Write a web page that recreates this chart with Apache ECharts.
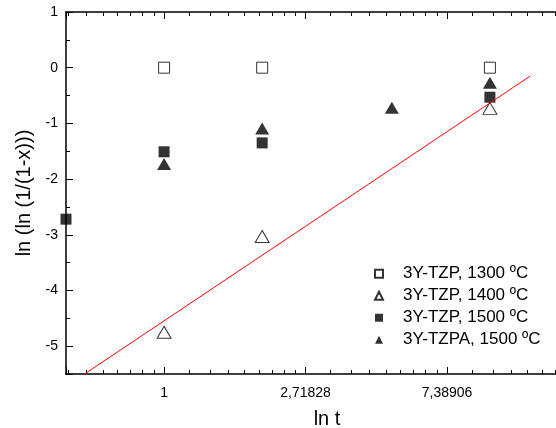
<!DOCTYPE html>
<html>
<head>
<meta charset="utf-8">
<script src="https://cdn.jsdelivr.net/npm/echarts@6/dist/echarts.min.js"></script>
<style>
html,body{margin:0;padding:0;background:#fff;}
#chart{width:556px;height:428px;}
</style>
</head>
<body>
<div id="chart"></div>
<script>
// ---- data ----
const seriesNames = ['3Y-TZP, 1300 ºC', '3Y-TZP, 1400 ºC', '3Y-TZP, 1500 ºC', '3Y-TZPA, 1500 ºC'];
const tzp1300_t = [1, 2, 10];
const tzp1300_y = [0, 0, 0];
const tzp1400_t = [1, 2, 10];
const tzp1400_y = [-4.75, -3.03, -0.73];
const tzp1500_t = [0.5, 1, 2, 10];
const tzp1500_y = [-2.72, -1.51, -1.35, -0.53];
const tzpa1500_t = [1, 2, 5, 10];
const tzpa1500_y = [-1.73, -1.09, -0.72, -0.27];
const fitT = [0.57, 13.3];
const fitY = [-5.5, -0.15];
const xTickValues = [1, Math.E, Math.E * Math.E];
const xTickLabels = ['1', '2,71828', '7,38906'];
const xMin = 0.5, xMax = 20;
const yMin = -5.5, yMax = 1;

function pairs(t, y) { return t.map((v, i) => [v, y[i]]); }

const FONT = 'Liberation Sans, Arial, sans-serif';
const black = '#000';

function xAxisDef(pos, showLabels) {
  return {
    type: 'log', logBase: Math.E, min: xMin, max: xMax, position: pos,
    axisLine: { show: true, onZero: false, lineStyle: { color: black, width: 1.5 } },
    axisTick: { show: true, inside: true, length: 7, lineStyle: { color: black, width: 1 } },
    minorTick: { show: true, splitNumber: 9, length: 4, lineStyle: { color: black, width: 1 } },
    splitLine: { show: false },
    minorSplitLine: { show: false },
    axisLabel: showLabels ? {
      show: true, margin: 12, color: black, fontFamily: FONT, fontSize: 14,
      showMinLabel: false, showMaxLabel: false,
      formatter: function (v) {
        for (let i = 0; i < xTickValues.length; i++) {
          if (Math.abs(v - xTickValues[i]) < 1e-6 * xTickValues[i]) return xTickLabels[i];
        }
        return '';
      }
    } : { show: false },
    name: showLabels ? 'ln t' : '',
    nameLocation: 'middle', nameGap: 35,
    nameTextStyle: { color: black, fontFamily: FONT, fontSize: 20 }
  };
}

const chart = echarts.init(document.getElementById('chart'), null, { renderer: 'canvas' });
const option = {
  backgroundColor: '#fff',
  animation: false,
  grid: { left: 66, top: 12, width: 522, height: 362, outerBoundsMode: 'none', containLabel: false },
  xAxis: [xAxisDef('bottom', true), xAxisDef('top', false)],
  yAxis: {
    type: 'value', min: yMin, max: yMax,
    axisLine: { show: true, onZero: false, lineStyle: { color: black, width: 1.5 } },
    axisTick: { show: true, inside: true, length: 7, lineStyle: { color: black, width: 1 } },
    minorTick: { show: true, splitNumber: 2, length: 4, lineStyle: { color: black, width: 1 } },
    splitLine: { show: false },
    axisLabel: { color: black, fontFamily: FONT, fontSize: 14, margin: 8, showMinLabel: false },
    name: 'ln (ln (1/(1-x)))', nameLocation: 'middle', nameGap: 30, nameRotate: 90,
    nameTextStyle: { color: black, fontFamily: FONT, fontSize: 20 }
  },
  legend: {
    orient: 'vertical', left: 374, top: 263, padding: 0,
    itemWidth: 8, itemHeight: 8, itemGap: 0.5,
    textStyle: { color: black, fontFamily: FONT, fontSize: 17, lineHeight: 21.5, padding: [0, 0, 0, 15] },
    data: seriesNames
  },
  series: [
    { name: seriesNames[0], type: 'scatter', xAxisIndex: 0, symbol: 'rect', symbolSize: 11,
      itemStyle: { color: '#fff', borderColor: black, borderWidth: 1 }, data: pairs(tzp1300_t, tzp1300_y), z: 3 },
    { name: seriesNames[1], type: 'scatter', xAxisIndex: 0, symbol: 'triangle', symbolSize: [14, 12],
      itemStyle: { color: '#fff', borderColor: black, borderWidth: 1 }, data: pairs(tzp1400_t, tzp1400_y), z: 3 },
    { name: seriesNames[2], type: 'scatter', xAxisIndex: 0, symbol: 'rect', symbolSize: 11,
      itemStyle: { color: black }, data: pairs(tzp1500_t, tzp1500_y), z: 3 },
    { name: seriesNames[3], type: 'scatter', xAxisIndex: 0, symbol: 'triangle', symbolSize: [14, 12],
      itemStyle: { color: black }, data: pairs(tzpa1500_t, tzpa1500_y), z: 3 },
    { name: 'fit', type: 'line', xAxisIndex: 0, symbol: 'none', showSymbol: false,
      lineStyle: { color: '#ff0000', width: 1 }, data: pairs(fitT, fitY), z: 4, silent: true }
  ]
};
chart.setOption(option);
</script>
</body>
</html>
